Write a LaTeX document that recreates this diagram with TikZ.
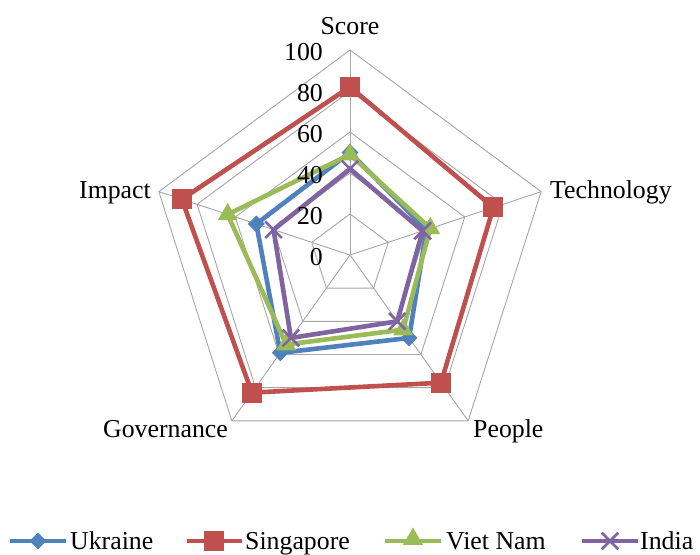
\documentclass[tikz,border=0pt]{standalone}
\usepackage{fontspec}
\setmainfont{Liberation Serif}
\usetikzlibrary{shapes.geometric,shapes.misc}
\definecolor{ukr}{HTML}{4F81BD}
\definecolor{sgp}{HTML}{C0504D}
\definecolor{vnm}{HTML}{9BBB59}
\definecolor{ind}{HTML}{8064A2}
\definecolor{gridc}{HTML}{A6A6A6}
\begin{document}
\begin{tikzpicture}[x=1pt,y=-1pt,
  gridline/.style={draw=gridc, line width=0.9pt},
  txt/.style={inner sep=0pt, font=\fontsize{25.8pt}{30pt}\selectfont},
  series/.style={line width=4.6pt, line join=miter},
  mkdiam/.style={diamond, fill=ukr, inner sep=0pt, minimum size=17pt},
  mksq/.style={rectangle, fill=sgp, inner sep=0pt, minimum size=20pt},
  mktri/.style={regular polygon, regular polygon sides=3, fill=vnm, inner sep=0pt, minimum size=23pt},
  mkx/.style={cross out, draw=ind, line width=2.6pt, inner sep=0pt, minimum size=14pt}]
\useasboundingbox (0,0) rectangle (700,554);
\def\cx{350}\def\cy{255}\def\rx{201}\def\ry{205}
% grid rings
\foreach \r in {0.2,0.4,0.6,0.8,1.0}{
  \draw[gridline] ({\cx},{\cy-\r*\ry})
    \foreach \k in {1,...,4}{ -- ({\cx+\r*\rx*cos(90-72*\k)},{\cy-\r*\ry*sin(90-72*\k)}) } -- cycle;
}
% axis end points
\foreach \k/\nm in {0/aS,1/aT,2/aP,3/aG,4/aI}{
  \coordinate (\nm) at ({\cx+\rx*cos(90-72*\k)},{\cy-\ry*sin(90-72*\k)});
}
\coordinate (ctr) at (\cx,\cy);
\foreach \nm in {aS,aT,aP,aG,aI}{ \draw[gridline] (ctr) -- (\nm); }
% axis labels
\node[txt, anchor=base] (lS) at (350,34) {Score};
\node[txt, anchor=base west] (lT) at (550,198) {Technology};
\node[txt, anchor=base west] (lP) at (473,437) {People};
\node[txt, anchor=base east] (lG) at (228,437) {Governance};
\node[txt, anchor=base east] (lI) at (151,198) {Impact};
% series
\newcommand\plotseries[2]{% name, values
  \foreach \v [count=\k from 0] in {#2}{
    \coordinate (#1\k) at ({\cx+\v/100*\rx*cos(90-72*\k)},{\cy-\v/100*\ry*sin(90-72*\k)});
  }
}
\plotseries{U}{50,40,50,59,49}
\plotseries{S}{82,75,77,83,88}
\plotseries{V}{49,42,45,54,64}
\plotseries{N}{42,38,40,50,40}
\draw[series, draw=ukr] (U0) -- (U1) -- (U2) -- (U3) -- (U4) -- cycle;
\foreach \k in {0,...,4}{ \node[mkdiam] at (U\k) {}; }
\draw[series, draw=sgp] (S0) -- (S1) -- (S2) -- (S3) -- (S4) -- cycle;
\foreach \k in {0,...,4}{ \node[mksq] at (S\k) {}; }
\draw[series, draw=vnm] (V0) -- (V1) -- (V2) -- (V3) -- (V4) -- cycle;
\foreach \k in {0,...,4}{ \node[mktri] at (V\k) {}; }
\draw[series, draw=ind] (N0) -- (N1) -- (N2) -- (N3) -- (N4) -- cycle;
\foreach \k in {0,...,4}{ \node[mkx] at (N\k) {}; }
% tick labels (on top)
\foreach \v in {0,20,40,60,80,100}{
  \node[txt, anchor=east] (t\v) at (323,{\cy-\v/100*\ry+2}) {\v};
}
% legend
\coordinate (lu1) at (10,541); \coordinate (lu2) at (66,541);
\draw[series, draw=ukr] (lu1) -- (lu2);
\node[mkdiam] (lum) at (38,541) {};
\node[txt, anchor=base west] (luT) at (70,549) {Ukraine};
\coordinate (ls1) at (187,541); \coordinate (ls2) at (242,541);
\draw[series, draw=sgp] (ls1) -- (ls2);
\node[mksq] (lsm) at (214,541) {};
\node[txt, anchor=base west] (lsT) at (245,549) {Singapore};
\coordinate (lv1) at (385,541); \coordinate (lv2) at (441,541);
\draw[series, draw=vnm] (lv1) -- (lv2);
\node[mktri] (lvm) at (413,539) {};
\node[txt, anchor=base west] (lvT) at (446,549) {Viet Nam};
\coordinate (ln1) at (582,541); \coordinate (ln2) at (638,541);
\draw[series, draw=ind] (ln1) -- (ln2);
\node[mkx] (lnm) at (610,541) {};
\node[txt, anchor=base west] (lnT) at (640,549) {India};
\end{tikzpicture}
\end{document}
